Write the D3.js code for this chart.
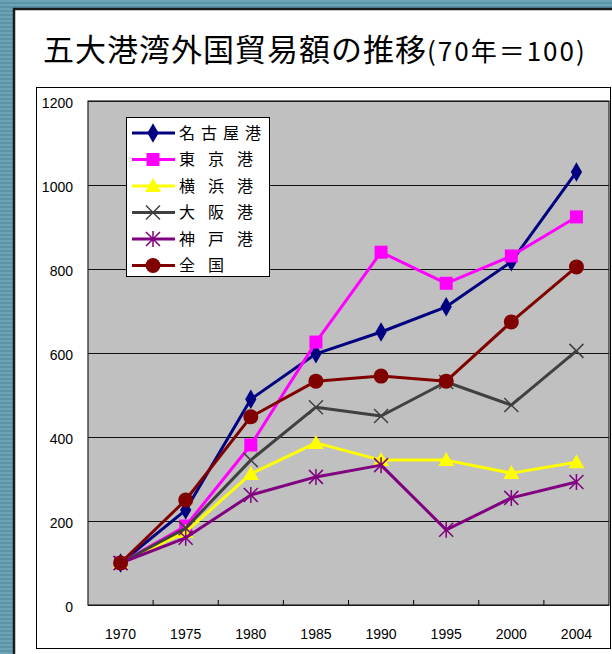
<!DOCTYPE html>
<html>
<head>
<meta charset="utf-8">
<script src="https://cdn.jsdelivr.net/npm/d3@7"></script>
<style>
  body { margin: 0; background: #fff; }
  text { font-family: "Liberation Sans", Arial, sans-serif; }
  .jp { font-family: "Noto Sans CJK JP", "Noto Sans CJK SC", sans-serif; }
</style>
</head>
<body>
<div class="chart"></div>
<script>
// categories and values (index, 1970 = 100)
var years = ["1970", "1975", "1980", "1985", "1990", "1995", "2000", "2004"];
var yTicks = [0, 200, 400, 600, 800, 1000, 1200];

var nagoya   = [100, 226, 490, 598, 650, 710, 817, 1031];
var tokyo    = [100, 188, 381, 626, 840, 766, 831, 924];
var yokohama = [100, 174, 312, 386, 345, 345, 314, 340];
var osaka    = [100, 183, 345, 471, 450, 531, 476, 605];
var kobe     = [100, 160, 262, 305, 333, 179, 255, 293];
var zenkoku  = [100, 250, 448, 533, 545, 533, 674, 805];

var seriesNames = ["名古屋港", "東京港", "横浜港", "大阪港", "神戸港", "全国"];
var seriesValues = [nagoya, tokyo, yokohama, osaka, kobe, zenkoku];

var colors = ["#000080", "#ff00ff", "#ffff00", "#404040", "#800080", "#800000"];
var markers = ["diamond", "square", "triangle", "x", "star", "circle"];

var W = 612, H = 654;
var plot = {left: 88, top: 101, right: 609, bottom: 605};
var width = plot.right - plot.left,
    height = plot.bottom - plot.top;

var root = d3.select(".chart").append("svg")
    .attr("width", W)
    .attr("height", H);

// striped blue background
var defs = root.append("defs");
var pat = defs.append("pattern")
    .attr("id", "stripes")
    .attr("width", 8).attr("height", 4)
    .attr("patternUnits", "userSpaceOnUse");
pat.append("rect").attr("width", 8).attr("height", 4).attr("fill", "#6ca3b7");
pat.append("rect").attr("y", 2).attr("width", 8).attr("height", 2).attr("fill", "#5b93a8");

root.append("rect")
    .attr("width", W).attr("height", H)
    .attr("fill", "url(#stripes)");

// white slide panel
root.append("rect")
    .attr("x", 14).attr("y", 9)
    .attr("width", W + 10).attr("height", H + 10)
    .attr("fill", "#fff")
    .attr("stroke", "#1a1a1a")
    .attr("stroke-width", 2.5);

// title
var title = root.append("text")
    .attr("class", "jp")
    .attr("x", 43)
    .attr("y", 61)
    .attr("fill", "#000");
title.append("tspan")
    .attr("font-size", "31px")
    .attr("letter-spacing", "1px")
    .text("五大港湾外国貿易額の推移");
title.append("tspan")
    .attr("font-size", "26px")
    .attr("letter-spacing", "2px")
    .text("(70年＝100)");

// chart frame
root.append("rect")
    .attr("x", 36.5).attr("y", 87.5)
    .attr("width", 574).attr("height", 561)
    .attr("fill", "#fff")
    .attr("stroke", "#000")
    .attr("stroke-width", 1);

var svg = root.append("g")
    .attr("transform", "translate(" + plot.left + "," + plot.top + ")");

const xScale = d3.scaleBand()
    .domain(years)
    .range([0, width]);

const yScale = d3.scaleLinear()
    .domain([0, 1200])
    .range([height, 0]);

svg.append("rect")
    .attr("width", width)
    .attr("height", height)
    .attr("fill", "#c0c0c0");

const yAxis = d3.axisLeft(yScale)
    .tickValues(yTicks)
    .tickFormat(d3.format("d"))
    .tickSize(0)
    .tickPadding(15);

const yAxisGroup = svg.append("g")
    .attr("class", "axis y-axis")
    .call(yAxis);
yAxisGroup.select(".domain").remove();
yAxisGroup.selectAll(".tick text")
    .attr("font-size", "14px")
    .attr("font-family", "Liberation Sans, Arial, sans-serif")
    .attr("fill", "#000")
    .attr("dy", "0.45em");
yAxisGroup.selectAll(".tick line")
    .attr("x2", width)
    .attr("stroke", "#111")
    .attr("stroke-width", 1.2);

// x labels
const xAxis = d3.axisBottom(xScale)
    .tickSize(0)
    .tickPadding(24);
const xAxisGroup = svg.append("g")
    .attr("class", "axis x-axis")
    .attr("transform", `translate(0, ${height})`)
    .call(xAxis);
xAxisGroup.select(".domain").remove();
xAxisGroup.selectAll(".tick text")
    .attr("font-size", "14px")
    .attr("font-family", "Liberation Sans, Arial, sans-serif")
    .attr("fill", "#000");

// tick marks between categories
svg.append("g")
    .selectAll("line")
    .data(years.slice(1))
    .enter().append("line")
    .attr("x1", d => xScale(d)).attr("x2", d => xScale(d))
    .attr("y1", height).attr("y2", height - 5)
    .attr("stroke", "#000");

// plot border
svg.append("rect")
    .attr("width", width)
    .attr("height", height)
    .attr("fill", "none")
    .attr("stroke", "#222")
    .attr("stroke-width", 1.2);

function drawMarker(g, type, color) {
    switch (type) {
      case "diamond":
        g.append("path").attr("d", d3.symbol(d3.symbolDiamond, 110)()).attr("fill", color);
        break;
      case "square":
        g.append("rect").attr("x", -6.5).attr("y", -6.5).attr("width", 13).attr("height", 13).attr("fill", color);
        break;
      case "triangle":
        g.append("path").attr("d", "M0,-8L8,6L-8,6Z").attr("fill", color);
        break;
      case "x":
        g.append("path").attr("d", "M-7,-7L7,7M-7,7L7,-7")
          .attr("stroke", color).attr("stroke-width", 1.5).attr("fill", "none");
        break;
      case "star":
        g.append("path").attr("d", "M-7,-7L7,7M-7,7L7,-7M0,-8L0,8")
          .attr("stroke", color).attr("stroke-width", 1.5).attr("fill", "none");
        break;
      case "circle":
        g.append("circle").attr("r", 7.5).attr("fill", color);
        break;
    }
}

const line = d3.line()
    .x((d, i) => xScale(years[i]) + xScale.bandwidth() / 2)
    .y(d => yScale(d));

seriesValues.forEach(function(vals, s) {
    svg.append("path")
        .datum(vals)
        .attr("fill", "none")
        .attr("stroke", colors[s])
        .attr("stroke-width", 3)
        .attr("stroke-linejoin", "round")
        .attr("d", line);

    svg.append("g")
        .selectAll("g")
        .data(vals)
        .enter().append("g")
        .attr("transform", (d, i) => "translate(" + (xScale(years[i]) + xScale.bandwidth() / 2) + "," + yScale(d) + ")")
        .each(function() { drawMarker(d3.select(this), markers[s], colors[s]); });
});

// legend
var legend = root.append("g")
    .attr("transform", "translate(126,117)");
legend.append("rect")
    .attr("x", 0.5).attr("y", 0.5)
    .attr("width", 143).attr("height", 159)
    .attr("fill", "#fff")
    .attr("stroke", "#000");

seriesNames.forEach(function(name, s) {
    var row = legend.append("g")
        .attr("transform", "translate(0," + (16 + s * 26.5) + ")");
    row.append("line")
        .attr("x1", 6).attr("x2", 49)
        .attr("stroke", colors[s])
        .attr("stroke-width", 3);
    drawMarker(row.append("g").attr("transform", "translate(27,0)"), markers[s], colors[s]);
    row.append("text")
        .attr("class", "jp")
        .attr("x", 53)
        .attr("dy", "0.36em")
        .attr("font-size", "16px")
        .attr("letter-spacing", name.length > 3 ? "6px" : "13px")
        .attr("fill", "#000")
        .text(name);
});
</script>
</body>
</html>
